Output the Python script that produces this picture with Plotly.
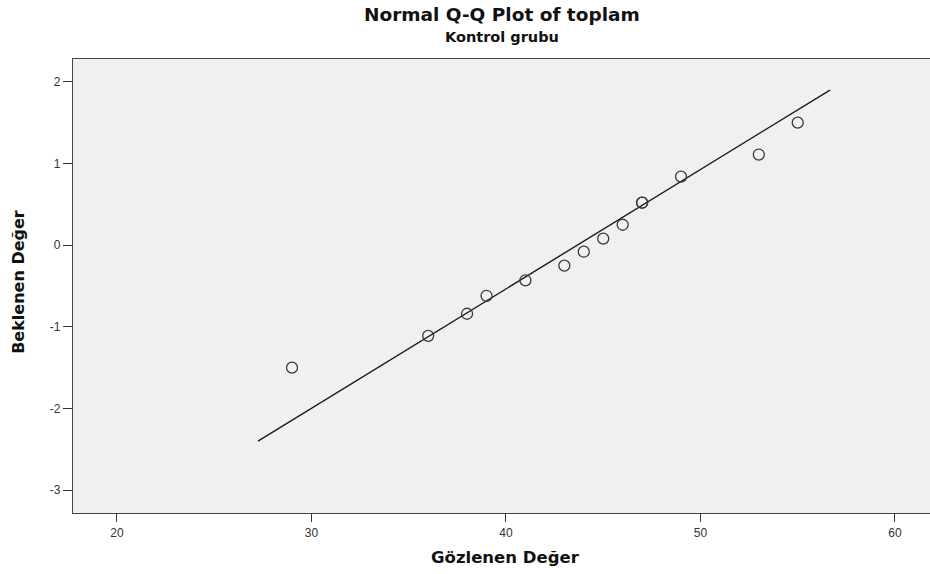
import plotly.graph_objects as go

# Observed values (Gözlenen Değer) and expected normal values (Beklenen Değer)
observed = [29, 36, 38, 39, 41, 43, 44, 45, 46, 47, 47, 49, 53, 55]
expected = [-1.50, -1.11, -0.84, -0.62, -0.43, -0.25, -0.08, 0.08, 0.25, 0.52, 0.52, 0.84, 1.11, 1.50]

# Reference line endpoints
line_x = [27.25, 56.66]
line_y = [-2.40, 1.90]

x_ticks = [20, 30, 40, 50, 60]
y_ticks = [-3, -2, -1, 0, 1, 2]

FONT = "Arial, Liberation Sans, sans-serif"
TFONT = "DejaVu Sans, Arial, sans-serif"

fig = go.Figure()
fig.add_trace(go.Scatter(
    x=line_x, y=line_y, mode="lines",
    line=dict(color="#1a1a1a", width=1.4),
    hoverinfo="skip", showlegend=False,
))
fig.add_trace(go.Scatter(
    x=observed, y=expected, mode="markers",
    marker=dict(symbol="circle-open", size=11, color="#3a3a3a",
                line=dict(width=1.3, color="#3a3a3a")),
    showlegend=False,
))

fig.update_layout(
    width=930, height=574,
    margin=dict(l=73, r=0, t=59, b=61),
    paper_bgcolor="white",
    plot_bgcolor="#f0f0f0",
    font=dict(family=FONT, size=12, color="#222"),
    xaxis=dict(
        range=[17.74, 61.8], tickvals=x_ticks, ticktext=[str(v) for v in x_ticks],
        showgrid=False, zeroline=False,
        showline=True, linecolor="#444", linewidth=1.2, mirror=True,
        ticks="outside", ticklen=8, tickcolor="#333", tickwidth=1,
        tickfont=dict(family=FONT, size=12, color="#333"),
    ),
    yaxis=dict(
        range=[-3.28, 2.28], tickvals=y_ticks, ticktext=[str(v) for v in y_ticks],
        showgrid=False, zeroline=False,
        showline=True, linecolor="#444", linewidth=1.2, mirror=True,
        ticks="outside", ticklen=9, tickcolor="#333", tickwidth=1,
        tickfont=dict(family=FONT, size=12, color="#333"),
    ),
    annotations=[
        dict(text="<b>Normal Q-Q Plot of toplam</b>", x=0.5, y=1.099,
             xref="paper", yref="paper", xanchor="center", yanchor="middle",
             showarrow=False, font=dict(family=TFONT, size=18.5, color="#111")),
        dict(text="<b>Kontrol grubu</b>", x=0.5, y=1.048,
             xref="paper", yref="paper", xanchor="center", yanchor="middle",
             showarrow=False, font=dict(family=TFONT, size=14.5, color="#111")),
        dict(text="<b>Gözlenen Değer</b>", x=0.505, y=-0.099,
             xref="paper", yref="paper", xanchor="center", yanchor="middle",
             showarrow=False, font=dict(family=TFONT, size=16.5, color="#111")),
        dict(text="<b>Beklenen Değer</b>", x=-0.0631, y=0.509, textangle=-90,
             xref="paper", yref="paper", xanchor="center", yanchor="middle",
             showarrow=False, font=dict(family=TFONT, size=16, color="#111")),
    ],
)

fig.write_html("out.html", config={"displayModeBar": False},
               post_script="document.body.style.margin='0';")
